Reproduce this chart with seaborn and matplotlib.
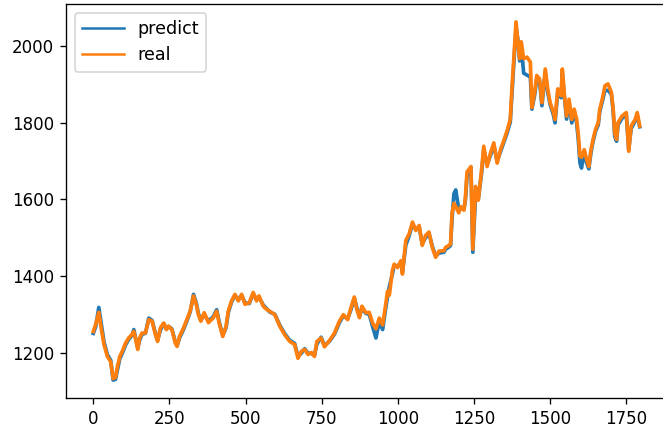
import matplotlib
matplotlib.use('Agg')
import matplotlib.pyplot as plt
import numpy as np
import pandas as pd
import seaborn as sns

# 采样点（索引）
steps = [
    0, 8, 18, 26, 35, 46, 57, 65, 73, 78,
    87, 95, 106, 116, 127, 133, 138, 146, 152, 160,
    171, 182, 193, 204, 211, 220, 231, 240, 247, 258,
    269, 275, 283, 296, 307, 318, 329, 338, 345, 353,
    364, 378, 394, 405, 414, 425, 436, 443, 454, 465,
    476, 487, 498, 512, 525, 536, 544, 558, 569, 579,
    596, 612, 628, 645, 661, 672, 683, 694, 705, 716,
    726, 734, 748, 759, 776, 792, 808, 821, 835, 846,
    857, 865, 874, 882, 895, 906, 917, 928, 939, 950,
    959, 966, 972, 982, 988, 999, 1010, 1015, 1026, 1037,
    1048, 1059, 1070, 1080, 1091, 1102, 1113, 1124, 1135, 1151,
    1157, 1168, 1173, 1178, 1184, 1190, 1200, 1206, 1217, 1222,
    1227, 1240, 1246, 1255, 1264, 1275, 1282, 1293, 1304, 1315,
    1326, 1337, 1347, 1358, 1369, 1375, 1380, 1388, 1394, 1400,
    1405, 1413, 1424, 1435, 1440, 1449, 1456, 1465, 1473, 1484,
    1492, 1500, 1511, 1516, 1525, 1536, 1540, 1547, 1554, 1562,
    1571, 1579, 1587, 1592, 1598, 1603, 1612, 1620, 1627, 1634,
    1641, 1649, 1658, 1663, 1671, 1680, 1690, 1701, 1707, 1712,
    1718, 1723, 1736, 1750, 1758, 1766, 1779, 1786, 1794,
]

real = [
    1255, 1274, 1305, 1263, 1221, 1190, 1176, 1132, 1135, 1159,
    1190, 1203, 1225, 1238, 1247, 1255, 1238, 1208, 1238, 1251,
    1251, 1286, 1282, 1247, 1229, 1264, 1277, 1260, 1269, 1260,
    1225, 1216, 1242, 1264, 1286, 1308, 1348, 1326, 1299, 1282,
    1304, 1278, 1291, 1308, 1274, 1242, 1269, 1308, 1335, 1352,
    1335, 1352, 1326, 1330, 1357, 1335, 1348, 1321, 1313, 1308,
    1299, 1269, 1247, 1229, 1221, 1185, 1203, 1208, 1195, 1200,
    1190, 1229, 1238, 1215, 1232, 1251, 1282, 1299, 1286, 1317,
    1345, 1313, 1291, 1321, 1304, 1305, 1277, 1262, 1290, 1272,
    1320, 1360, 1350, 1414, 1431, 1422, 1440, 1405, 1493, 1510,
    1541, 1519, 1532, 1480, 1506, 1515, 1475, 1449, 1465, 1466,
    1475, 1480, 1484, 1565, 1590, 1581, 1565, 1581, 1572, 1607,
    1672, 1686, 1470, 1634, 1598, 1678, 1739, 1686, 1721, 1748,
    1695, 1730, 1752, 1778, 1809, 1897, 1959, 2064, 2012, 1968,
    2012, 1968, 1972, 1959, 1840, 1880, 1924, 1915, 1853, 1941,
    1889, 1853, 1827, 1809, 1889, 1871, 1941, 1871, 1818, 1862,
    1809, 1836, 1809, 1774, 1713, 1710, 1730, 1704, 1686, 1730,
    1757, 1783, 1801, 1836, 1862, 1897, 1902, 1880, 1836, 1774,
    1757, 1801, 1818, 1827, 1726, 1792, 1809, 1827, 1792,
]

predict = [
    1250, 1268, 1318, 1275, 1228, 1195, 1180, 1128, 1130, 1150,
    1184, 1198, 1220, 1234, 1245, 1260, 1242, 1212, 1232, 1248,
    1250, 1290, 1284, 1250, 1232, 1258, 1276, 1262, 1268, 1262,
    1228, 1218, 1238, 1260, 1282, 1306, 1352, 1330, 1302, 1284,
    1300, 1282, 1294, 1312, 1278, 1245, 1265, 1304, 1332, 1350,
    1338, 1350, 1330, 1328, 1354, 1338, 1345, 1324, 1315, 1306,
    1300, 1272, 1250, 1232, 1224, 1190, 1198, 1210, 1198, 1198,
    1192, 1222, 1240, 1218, 1230, 1248, 1278, 1296, 1288, 1312,
    1342, 1318, 1294, 1316, 1302, 1300, 1268, 1238, 1280, 1260,
    1310, 1345, 1372, 1405, 1428, 1425, 1436, 1410, 1480, 1505,
    1536, 1522, 1528, 1484, 1500, 1512, 1478, 1452, 1460, 1462,
    1470, 1476, 1480, 1550, 1615, 1625, 1575, 1576, 1575, 1600,
    1660, 1684, 1462, 1610, 1600, 1670, 1730, 1692, 1715, 1742,
    1700, 1725, 1748, 1772, 1802, 1880, 1945, 2050, 2018, 1962,
    2005, 1930, 1925, 1920, 1836, 1872, 1915, 1910, 1845, 1932,
    1880, 1848, 1820, 1800, 1880, 1866, 1930, 1866, 1810, 1855,
    1800, 1830, 1800, 1760, 1695, 1682, 1725, 1695, 1680, 1722,
    1752, 1778, 1795, 1830, 1855, 1885, 1885, 1875, 1830, 1765,
    1752, 1795, 1812, 1822, 1730, 1785, 1805, 1820, 1790,
]

df = pd.DataFrame({'step': steps, 'predict': predict, 'real': real})

fig = plt.figure(figsize=(663 / 120, 436 / 120), dpi=120)
ax = fig.add_axes([66 / 663, 38 / 436, 601 / 663, 394 / 436])

sns.lineplot(data=df, x='step', y='predict', label='predict', color='C0', linewidth=2.2, ax=ax)
sns.lineplot(data=df, x='step', y='real', label='real', color='C1', linewidth=2.2, ax=ax)

ax.set_xlabel('')
ax.set_ylabel('')
ax.set_xticks([0, 250, 500, 750, 1000, 1250, 1500, 1750])
ax.set_yticks([1200, 1400, 1600, 1800, 2000])

leg = ax.legend(loc='upper left', handlelength=2.4, fontsize=10.5)
for line in leg.get_lines():
    line.set_linewidth(1.5)

fig.savefig('out.png', dpi=120)
